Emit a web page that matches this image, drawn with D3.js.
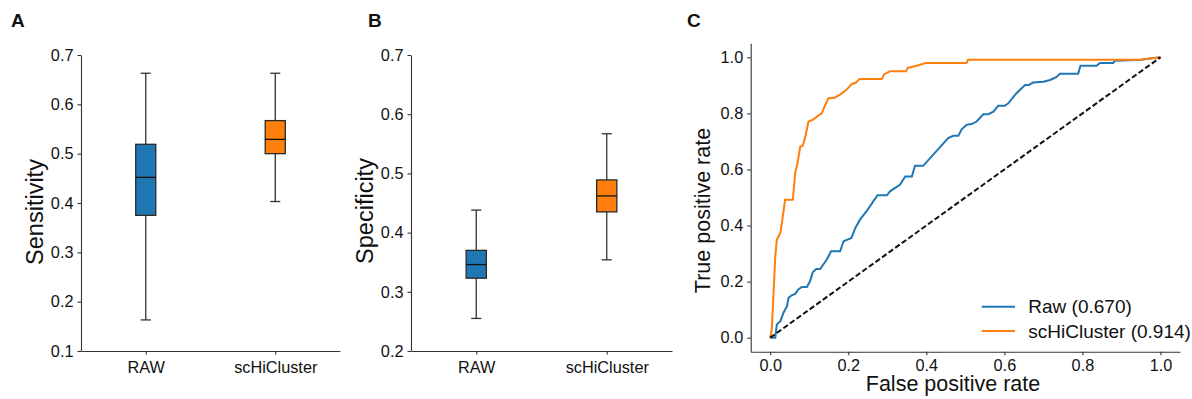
<!DOCTYPE html>
<html>
<head>
  <meta charset="utf-8" />
  <title>scHiCluster evaluation</title>
  <script src="https://d3js.org/d3.v7.min.js"></script>
  <style>
    body, html {
      margin: 0;
      background: white;
    }
    svg text {
      font-family: "Liberation Sans", Arial, Helvetica, sans-serif;
      fill: #111;
    }
    .axis path, .axis line {
      stroke: #333;
      stroke-width: 1.1;
    }
  </style>
</head>
<body>
<svg id="chart" width="1192" height="399"></svg>
<script>
// ---- data ----
var categories = ["RAW", "scHiCluster"];
var boxColors = ["#1f77b4", "#ff7f0e"];

// sensitivity (panel A): low whisker, Q1, median, Q3, high whisker
var sensLow = [0.163, 0.403];
var sensQ1 = [0.375, 0.500];
var sensMed = [0.452, 0.529];
var sensQ3 = [0.519, 0.567];
var sensHigh = [0.663, 0.663];
var sensTicks = [0.1, 0.2, 0.3, 0.4, 0.5, 0.6, 0.7];

// specificity (panel B)
var specLow = [0.255, 0.354];
var specQ1 = [0.323, 0.435];
var specMed = [0.346, 0.462];
var specQ3 = [0.370, 0.489];
var specHigh = [0.438, 0.567];
var specTicks = [0.2, 0.3, 0.4, 0.5, 0.6, 0.7];

// ROC curves (panel C)
var rawFpr = [0, 0.013, 0.017, 0.026, 0.034, 0.043, 0.047, 0.055, 0.064, 0.072, 0.081, 0.094, 0.102, 0.109, 0.118, 0.128,
  0.136, 0.145, 0.156, 0.179, 0.188, 0.198, 0.208, 0.218, 0.230, 0.247, 0.264, 0.275, 0.299, 0.307, 0.333, 0.346,
  0.363, 0.371, 0.392, 0.456, 0.469, 0.482, 0.491, 0.503, 0.516, 0.529, 0.546, 0.559, 0.572, 0.584, 0.601, 0.610,
  0.631, 0.653, 0.662, 0.674, 0.700, 0.717, 0.734, 0.742, 0.789, 0.795, 0.836, 0.845, 0.879, 0.883, 0.950, 1.0];
var rawTpr = [0, 0, 0.047, 0.059, 0.089, 0.112, 0.142, 0.151, 0.156, 0.172, 0.181, 0.181, 0.201, 0.233, 0.245, 0.245,
  0.261, 0.279, 0.308, 0.308, 0.344, 0.350, 0.356, 0.391, 0.421, 0.451, 0.486, 0.508, 0.508, 0.522, 0.546, 0.575,
  0.575, 0.613, 0.613, 0.712, 0.720, 0.720, 0.744, 0.759, 0.762, 0.771, 0.797, 0.797, 0.806, 0.827, 0.827, 0.836,
  0.872, 0.901, 0.901, 0.910, 0.913, 0.919, 0.930, 0.941, 0.941, 0.970, 0.970, 0.980, 0.980, 0.988, 0.991, 1.0];

var schFpr = [0, 0.004, 0.009, 0.013, 0.017, 0.026, 0.030, 0.038, 0.058, 0.064, 0.070, 0.077, 0.083, 0.090, 0.098, 0.110,
  0.120, 0.132, 0.141, 0.149, 0.165, 0.179, 0.196, 0.209, 0.220, 0.229, 0.286, 0.292, 0.307, 0.348, 0.352, 0.375,
  0.399, 0.503, 0.507, 0.947, 1.0];
var schTpr = [0, 0.030, 0.172, 0.290, 0.350, 0.374, 0.409, 0.492, 0.492, 0.587, 0.623, 0.682, 0.684, 0.717, 0.771, 0.778,
  0.789, 0.800, 0.830, 0.854, 0.856, 0.867, 0.885, 0.905, 0.910, 0.923, 0.923, 0.940, 0.950, 0.950, 0.962, 0.970,
  0.980, 0.980, 0.991, 0.991, 1.0];

var rocTicks = [0, 0.2, 0.4, 0.6, 0.8, 1.0];
var legendLabels = ["Raw (0.670)", "scHiCluster (0.914)"];

var svg = d3.select("#chart");
var fmt = d3.format(".1f");

function styleAxis(sel) {
  sel.selectAll("text")
    .style("font-size", "16.3px")
    .style("font-family", "'Liberation Sans', Arial, Helvetica, sans-serif")
    .attr("fill", "#111");
}

// ---- box plot panels ----
function boxPanel(opt) {
  var x = d3.scalePoint().domain(categories).range([opt.left, opt.right]).padding(0.5);
  var y = d3.scaleLinear().domain(opt.domain).range([opt.bottom, opt.top]);
  var g = svg.append("g");

  g.append("g").attr("class", "axis")
    .attr("transform", "translate(" + opt.left + ",0)")
    .call(d3.axisLeft(y).tickValues(opt.ticks).tickFormat(fmt).tickSize(3.5).tickSizeOuter(0).tickPadding(4))
    .call(styleAxis);
  g.append("g").attr("class", "axis")
    .attr("transform", "translate(0," + opt.bottom + ")")
    .call(d3.axisBottom(x).tickSize(3.5).tickSizeOuter(0).tickPadding(7))
    .call(styleAxis);

  var bw = x.step() * 0.155;
  var cap = bw / 2;
  categories.forEach(function(c, i) {
    var cx = x(c);
    // whiskers
    g.append("line").attr("x1", cx).attr("x2", cx).attr("y1", y(opt.q3[i])).attr("y2", y(opt.high[i]))
      .attr("stroke", "#333").attr("stroke-width", 1.3);
    g.append("line").attr("x1", cx).attr("x2", cx).attr("y1", y(opt.q1[i])).attr("y2", y(opt.low[i]))
      .attr("stroke", "#333").attr("stroke-width", 1.3);
    g.append("line").attr("x1", cx - cap / 2).attr("x2", cx + cap / 2).attr("y1", y(opt.high[i])).attr("y2", y(opt.high[i]))
      .attr("stroke", "#333").attr("stroke-width", 1.3);
    g.append("line").attr("x1", cx - cap / 2).attr("x2", cx + cap / 2).attr("y1", y(opt.low[i])).attr("y2", y(opt.low[i]))
      .attr("stroke", "#333").attr("stroke-width", 1.3);
    // box
    g.append("rect").attr("x", cx - bw / 2).attr("width", bw)
      .attr("y", y(opt.q3[i])).attr("height", y(opt.q1[i]) - y(opt.q3[i]))
      .attr("fill", boxColors[i]).attr("stroke", "#2a2a2a").attr("stroke-width", 1.3);
    g.append("line").attr("x1", cx - bw / 2).attr("x2", cx + bw / 2).attr("y1", y(opt.med[i])).attr("y2", y(opt.med[i]))
      .attr("stroke", "#111").attr("stroke-width", 1.3);
  });

  g.append("text")
    .attr("transform", "translate(" + opt.labelX + "," + opt.labelY + ") rotate(-90)")
    .attr("text-anchor", "middle")
    .style("font-size", "23.5px")
    .text(opt.label);
}

boxPanel({
  left: 81, right: 340, top: 55, bottom: 351,
  domain: [0.1, 0.7], ticks: sensTicks,
  low: sensLow, q1: sensQ1, med: sensMed, q3: sensQ3, high: sensHigh,
  label: "Sensitivity", labelX: 43, labelY: 212
});

boxPanel({
  left: 411, right: 672, top: 55, bottom: 351,
  domain: [0.2, 0.7], ticks: specTicks,
  low: specLow, q1: specQ1, med: specMed, q3: specQ3, high: specHigh,
  label: "Specificity", labelX: 373, labelY: 211
});

// ---- ROC panel ----
var xr = d3.scaleLinear().domain([-0.05, 1.05]).range([750.7, 1180]);
var yr = d3.scaleLinear().domain([-0.05, 1.05]).range([351.7, 43.3]);

svg.append("g").attr("class", "axis")
  .attr("transform", "translate(750.7,0)")
  .call(d3.axisLeft(yr).tickValues(rocTicks).tickFormat(fmt).tickSize(3.5).tickSizeOuter(0).tickPadding(4))
  .call(styleAxis);
svg.append("g").attr("class", "axis")
  .attr("transform", "translate(0,351.7)")
  .call(d3.axisBottom(xr).tickValues(rocTicks).tickFormat(fmt).tickSize(3.5).tickSizeOuter(0).tickPadding(4))
  .call(styleAxis);

var line = d3.line()
  .x(function(d) { return xr(d[0]); })
  .y(function(d) { return yr(d[1]); });

svg.append("path")
  .datum(d3.zip(rawFpr, rawTpr))
  .attr("d", line)
  .attr("fill", "none").attr("stroke", "#1f77b4").attr("stroke-width", 2);
svg.append("path")
  .datum(d3.zip(schFpr, schTpr))
  .attr("d", line)
  .attr("fill", "none").attr("stroke", "#ff7f0e").attr("stroke-width", 2);
svg.append("path")
  .datum([[0, 0], [1, 1]])
  .attr("d", line)
  .attr("fill", "none").attr("stroke", "#111").attr("stroke-width", 2)
  .attr("stroke-dasharray", "5.5,2.6");

// legend
legendLabels.forEach(function(lab, i) {
  var ly = 306.7 + i * 24.3;
  svg.append("line").attr("x1", 981.7).attr("x2", 1015).attr("y1", ly).attr("y2", ly)
    .attr("stroke", boxColors[i]).attr("stroke-width", 2);
  svg.append("text").attr("x", 1028.3).attr("y", ly + 6.7)
    .style("font-size", "19px").text(lab);
});

svg.append("text")
  .attr("x", 953).attr("y", 391)
  .attr("text-anchor", "middle")
  .style("font-size", "21.5px")
  .text("False positive rate");
svg.append("text")
  .attr("transform", "translate(710,210.5) rotate(-90)")
  .attr("text-anchor", "middle")
  .style("font-size", "21.5px")
  .text("True positive rate");

// panel letters
[["A", 11], ["B", 368], ["C", 687]].forEach(function(p) {
  svg.append("text").attr("x", p[1]).attr("y", 26.7)
    .style("font-size", "19px").style("font-weight", "bold")
    .text(p[0]);
});
</script>
</body>
</html>
